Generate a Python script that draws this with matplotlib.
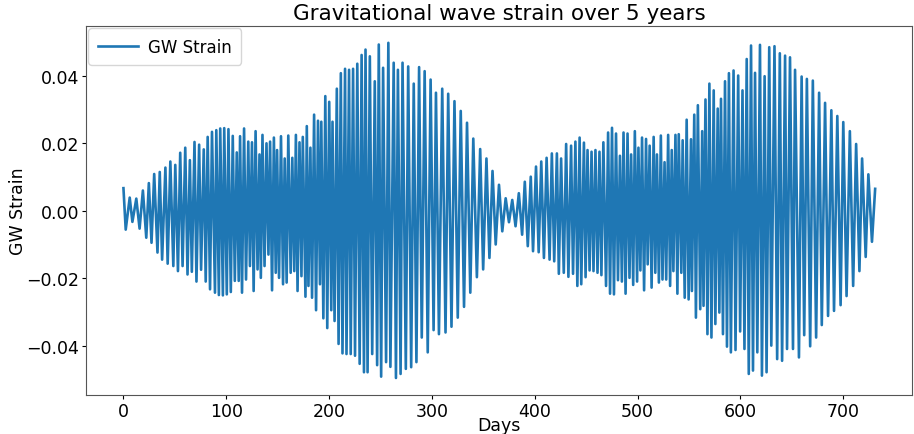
import numpy as np
import matplotlib
matplotlib.use("Agg")
import matplotlib.pyplot as plt

# turning points of the strain trace (day, strain)
days_1 = [0, 2.2, 6.1, 8.7, 12.5, 15.7, 18.9, 22.2, 24.7, 27.3, 29.9, 33.1, 35.3, 37.6,
          40.8, 43.0, 45.6, 48.5, 50.4, 53.0, 55.2, 57.5, 60.1, 62.3, 64.6, 66.5, 69.1,
          71.0, 73.6, 75.5, 78.1, 80.0, 81.9, 84.2, 86.1,
          89.0, 90.3, 92.8, 94.1, 96.7, 98.0, 100.5, 102.1, 104.4, 106.3, 108.3, 110.2,
          112.1, 113.4, 115.3, 117.3, 119.2, 121.4, 123.0, 125.0, 126.6, 128.5, 130.4,
          132.3, 133.6, 135.2, 137.2, 139.1, 141.0, 142.6, 144.5, 146.3, 148.1, 149.4,
          151.3, 153.2, 155.2, 156.8, 158.7, 160.3, 162.6, 164.2, 166.1, 167.7, 169.3,
          171.2, 173.1, 174.4, 177.0]
strain_1 = [0.0067, -0.0056, 0.0039, -0.0033, 0.0036, -0.0053, 0.0060, -0.0080, 0.0082,
            -0.0095, 0.0109, -0.0124, 0.0115, -0.0145, 0.0128, -0.0157, 0.0146, -0.0164,
            0.0136, -0.0179, 0.0172, -0.0164, 0.0187, -0.0189, 0.0150, -0.0181, 0.0204,
            -0.0210, 0.0196, -0.0175, 0.0182, -0.0210, 0.0219, -0.0233, 0.0234,
            -0.0243, 0.0239, -0.0250, 0.0244, -0.0251, 0.0245, -0.0248, 0.0242, -0.0241,
            0.0222, -0.0208, 0.0173, -0.0208, 0.0221, -0.0243, 0.0244, -0.0204, 0.0205,
            -0.0164, 0.0203, -0.0238, 0.0236, -0.0174, 0.0167, -0.0199, 0.0225, -0.0164,
            0.0200, -0.0130, 0.0205, -0.0236, 0.0217, -0.0184, 0.0180, -0.0199, 0.0221,
            -0.0218, 0.0155, -0.0213, 0.0223, -0.0184, 0.0157, -0.0179, 0.0225, -0.0238,
            0.0203, -0.0194, 0.0219, -0.0255]

days_2 = [178.3, 179.9, 181.8, 183.4, 185.4, 187.3, 189.2, 191.1, 192.4, 194.4, 196.3,
          198.2, 200.1, 202.1, 203.3, 205.3, 207.5, 209.2, 211.4, 213.0, 215.5, 216.9,
          219.4, 221.0, 223.3, 225.2, 227.4, 229.7, 231.6, 233.9, 235.4, 237.4, 239.6,
          241.9, 244.4, 246.7, 248.3, 250.6, 252.5, 255.4, 257.6, 259.6, 262.8, 265.0,
          266.9,
          269.5, 271.4, 274.6, 276.9, 279.8, 282.3, 284.9, 287.5, 290.1, 292.9, 295.9,
          298.7, 301.6, 303.9, 306.8, 310.0, 313.2, 315.8, 319.0, 321.9, 325.1, 328.0,
          331.2, 334.1, 337.3, 340.2, 343.7, 346.9, 349.8, 353.0, 355.9, 358.9]
strain_2 = [0.0251, -0.0223, 0.0187, -0.0258, 0.0285, -0.0295, 0.0267, -0.0218, 0.0264,
            -0.0319, 0.0340, -0.0348, 0.0323, -0.0295, 0.0264, -0.0327, 0.0362, -0.0395,
            0.0408, -0.0423, 0.0421, -0.0425, 0.0418, -0.0425, 0.0421, -0.0430, 0.0436,
            -0.0454, 0.0462, -0.0479, 0.0478, -0.0479, 0.0458, -0.0425, 0.0384, -0.0458,
            0.0493, -0.0492, 0.0424, -0.0449, 0.0498, -0.0463, 0.0439, -0.0496, 0.0418,
            -0.0484, 0.0439, -0.0469, 0.0428, -0.0464, 0.0377, -0.0449, 0.0426, -0.0376,
            0.0414, -0.0420, 0.0389, -0.0354, 0.0350, -0.0366, 0.0362, -0.0361, 0.0347,
            -0.0344, 0.0325, -0.0317, 0.0296, -0.0285, 0.0261, -0.0243, 0.0214, -0.0197,
            0.0183, -0.0174, 0.0155, -0.0140, 0.0118]

days_3 = [362.0, 365.2, 368.4, 371.7, 374.9, 378.1, 381.3, 384.5, 387.7, 390.3, 393.2,
          396.1, 398.3, 401.2, 403.8, 406.3, 408.9, 411.5, 414.4, 416.6, 418.9, 421.5,
          423.4, 425.6, 428.2, 430.5, 432.7, 435.3, 437.2, 439.5, 441.4, 443.6, 445.2,
          447.8,
          449.4, 451.3, 453.3, 455.2, 457.1, 459.0, 461.0, 462.9, 464.8, 466.7, 469.3,
          471.3, 473.2, 475.1, 477.0, 479.0, 480.9, 482.8, 484.7, 486.3, 488.3, 490.2,
          492.1, 493.7, 495.7, 497.3, 499.5, 500.8, 502.7, 504.3, 506.3, 508.2, 509.8,
          511.7, 513.6, 515.6, 517.2, 518.8, 520.7, 522.6, 524.2, 526.2, 527.8, 529.7,
          531.6, 533.2, 534.8, 536.8, 538.7, 540.0]
strain_3 = [-0.0100, 0.0077, -0.0061, 0.0037, -0.0034, 0.0032, -0.0046, 0.0052, -0.0071,
            0.0086, -0.0105, 0.0101, -0.0120, 0.0131, -0.0123, 0.0146, -0.0140, 0.0157,
            -0.0145, 0.0170, -0.0150, 0.0170, -0.0187, 0.0155, -0.0184, 0.0198, -0.0196,
            0.0193, -0.0187, 0.0205, -0.0223, 0.0217, -0.0218, 0.0202,
            -0.0197, 0.0180, -0.0177, 0.0175, -0.0179, 0.0180, -0.0184, 0.0175, -0.0191,
            0.0203, -0.0223, 0.0232, -0.0246, 0.0246, -0.0248, 0.0229, -0.0206, 0.0163,
            -0.0210, 0.0232, -0.0246, 0.0229, -0.0199, 0.0167, -0.0220, 0.0236, -0.0210,
            0.0187, -0.0177, 0.0217, -0.0236, 0.0213, -0.0159, 0.0193, -0.0228, 0.0219,
            -0.0184, 0.0167, -0.0213, 0.0223, -0.0204, 0.0144, -0.0204, 0.0225, -0.0223,
            0.0180, -0.0179, 0.0225, -0.0246, 0.0227]

days_4 = [542.5, 543.8, 545.8, 547.7, 549.6, 551.9, 552.8, 555.1, 556.7, 558.6, 560.9,
          562.8, 564.1, 566.0, 567.9, 569.8, 571.8, 574.0, 575.6, 577.9, 579.5, 581.1,
          583.0, 585.0, 586.9, 588.8, 590.7, 593.3, 595.2, 597.8, 599.7, 602.0, 603.9,
          606.1, 608.1, 610.3, 612.2, 614.2, 616.4, 619.0, 620.9, 623.5, 625.4, 628.0,
          630.0,
          633.1, 635.7, 638.3, 640.5, 643.4, 645.3, 648.2, 651.1, 653.1, 656.9, 659.5,
          662.0, 664.6, 667.8, 670.4, 673.6, 676.5, 679.1, 682.3, 685.2, 688.4, 691.0,
          694.2, 697.4, 700.0, 703.2, 706.4, 709.6, 712.5, 715.7, 718.3, 721.8, 724.4,
          727.9, 731.0]
strain_4 = [-0.0184, 0.0209, -0.0258, 0.0270, -0.0263, 0.0212, -0.0238, 0.0285, -0.0317,
            0.0313, -0.0292, 0.0236, -0.0282, 0.0330, -0.0366, 0.0377, -0.0376, 0.0357,
            -0.0336, 0.0303, -0.0302, 0.0332, -0.0366, 0.0384, -0.0403, 0.0408, -0.0420,
            0.0416, -0.0413, 0.0401, -0.0358, 0.0357, -0.0410, 0.0450, -0.0484, 0.0490,
            -0.0474, 0.0409, -0.0420, 0.0492, -0.0489, 0.0399, -0.0479, 0.0485, -0.0400,
            0.0488, -0.0440, 0.0467, -0.0445, 0.0460, -0.0410, 0.0455, -0.0410, 0.0418,
            -0.0435, 0.0398, -0.0369, 0.0391, -0.0402, 0.0386, -0.0376, 0.0350, -0.0339,
            0.0320, -0.0312, 0.0298, -0.0297, 0.0281, -0.0280, 0.0263, -0.0253, 0.0236,
            -0.0223, 0.0198, -0.0179, 0.0155, -0.0137, 0.0108, -0.0092, 0.0065]

days = np.concatenate([days_1, days_2, days_3, days_4])
strain = np.concatenate([strain_1, strain_2, strain_3, strain_4])

fig = plt.figure(figsize=(9.14, 4.35), dpi=100)
ax = fig.add_axes([0.094, 0.09, 0.904, 0.848])

ax.plot(days, strain, color='#1f77b4', lw=1.9, label='GW Strain')

ax.set_xlim(-36.5, 767)
ax.set_ylim(-0.0546, 0.0548)
ax.set_title('Gravitational wave strain over 5 years', fontsize=15.5, pad=5)
ax.set_xlabel('Days', fontsize=12.5)
ax.set_ylabel('GW Strain', fontsize=12.5)
ax.xaxis.set_label_coords(0.5, -0.058)
ax.yaxis.set_label_coords(-0.071, 0.5)
ax.tick_params(labelsize=12.5, length=3, pad=2)
for s in ax.spines.values():
    s.set_color('#555555')
ax.legend(loc='upper left', fontsize=12, handlelength=2.4, handletextpad=0.65,
          borderpad=0.55, borderaxespad=0.15)

fig.savefig('out.png', dpi=100)
